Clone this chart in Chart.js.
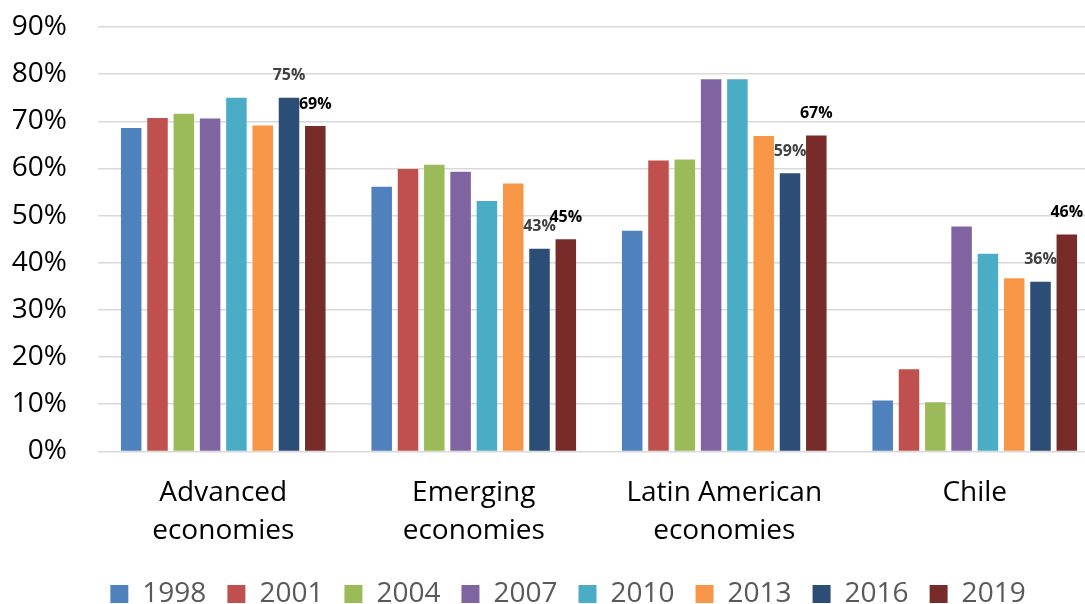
<!DOCTYPE html>
<html>
<head>
<meta charset="utf-8">
<script src="https://cdn.jsdelivr.net/npm/chart.js@4/dist/chart.umd.min.js"></script>
<style>
  html, body { margin: 0; padding: 0; background: #fff; overflow: hidden; }
  #wrap { width: 1136px; height: 604px; position: relative; }
</style>
</head>
<body>
<div id="wrap"><canvas id="shareChart"></canvas></div>
<script>
// categories and series (percent)
var categories = [['Advanced', 'economies'], ['Emerging', 'economies'], ['Latin American', 'economies'], 'Chile']
var years = ['1998', '2001', '2004', '2007', '2010', '2013', '2016', '2019']

var s1998 = [68.6, 56.1, 46.8, 10.8]
var s2001 = [70.7, 59.9, 61.7, 17.4]
var s2004 = [71.6, 60.8, 61.9, 10.4]
var s2007 = [70.6, 59.3, 78.9, 47.7]
var s2010 = [75.0, 53.1, 78.9, 41.9]
var s2013 = [69.1, 56.8, 66.9, 36.7]
var s2016 = [75, 43, 59, 36]
var s2019 = [69, 45, 67, 46]

var yTicks = [0, 10, 20, 30, 40, 50, 60, 70, 80, 90]

var colors = ['#4F81BD', '#C0504D', '#9BBB59', '#8064A2', '#4BACC6', '#F79646', '#2C4D75', '#772C2A']
var seriesData = [s1998, s2001, s2004, s2007, s2010, s2013, s2016, s2019]

// value labels only on the last two series
var labelColors = { 6: '#404040', 7: '#000000' }

var valueLabels = {
    id: 'valueLabels',
    afterDatasetsDraw: function (chart) {
        var ctx = chart.ctx
        ctx.save()
        ctx.font = 'bold 16px "Open Sans"'
        ctx.textAlign = 'center'
        ctx.textBaseline = 'middle'
        Object.keys(labelColors).forEach(function (i) {
            var meta = chart.getDatasetMeta(+i)
            ctx.fillStyle = labelColors[i]
            meta.data.forEach(function (bar, j) {
                var v = chart.data.datasets[i].data[j]
                ctx.fillText(Math.round(v) + '%', bar.x, bar.y - 22)
            })
        })
        ctx.restore()
    }
}

// legend sits a little right of the plot's centre
var legendShift = {
    id: 'legendShift',
    afterLayout: function (chart) {
        chart.legend.left += 14
        chart.legend.right += 14
    }
}

var datasets = years.map(function (y, i) {
    return {
        label: y,
        data: seriesData[i],
        backgroundColor: colors[i],
        borderWidth: 0,
        categoryPercentage: 0.84,
        barPercentage: 0.78
    }
})

new Chart(document.getElementById('shareChart').getContext('2d'), {
    type: 'bar',
    data: { labels: categories, datasets: datasets },
    plugins: [valueLabels, legendShift],
    options: {
        responsive: true,
        maintainAspectRatio: false,
        animation: false,
        layout: { padding: { left: 8, right: 36, top: 27, bottom: -14 } },
        plugins: {
            tooltip: { enabled: false },
            legend: {
                position: 'bottom',
                labels: {
                    boxWidth: 18,
                    boxHeight: 18,
                    padding: 21,
                    color: '#595959',
                    font: { family: 'Open Sans', size: 28 }
                }
            }
        },
        scales: {
            x: {
                grid: { display: false },
                border: { display: false },
                afterFit: function (axis) { axis.height -= 6 },
                ticks: {
                    color: '#000',
                    padding: 15,
                    maxRotation: 0,
                    font: { family: 'Open Sans', size: 28, lineHeight: 1.35 }
                }
            },
            y: {
                min: 0,
                max: 90,
                afterBuildTicks: function (axis) {
                    axis.ticks = yTicks.map(function (v) { return { value: v } })
                },
                afterFit: function (axis) {
                    axis.width = 90
                    axis.paddingTop = 0
                    axis.paddingBottom = 0
                },
                grid: { color: '#D9D9D9', lineWidth: 1.5, drawTicks: false },
                border: { display: false },
                ticks: {
                    color: '#000',
                    padding: 31,
                    font: { family: 'Open Sans', size: 28 },
                    callback: function (v) { return v + '%' }
                }
            }
        }
    }
})
</script>
</body>
</html>
